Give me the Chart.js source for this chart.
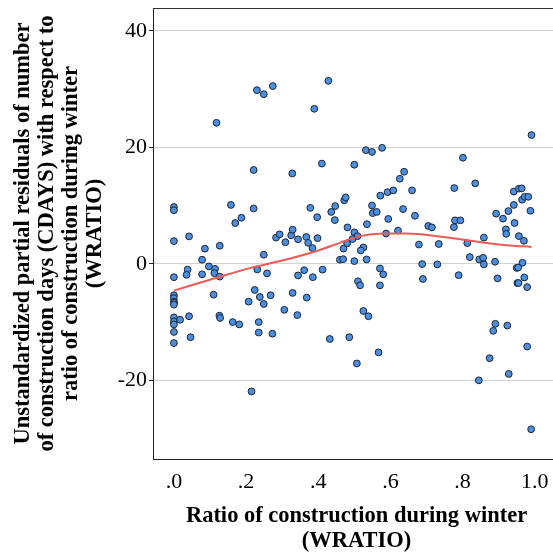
<!DOCTYPE html>
<html>
<head>
<meta charset="utf-8">
<script src="https://cdn.jsdelivr.net/npm/chart.js@4"></script>
<style>
  html, body { margin: 0; padding: 0; background: #fff; overflow: hidden; }
  canvas { display: block; }
</style>
</head>
<body>
<canvas id="chart" width="600" height="558"></canvas>
<script>
// Ratio of construction during winter (WRATIO) per project
const wratio = [
  0.118, 0.230, 0.249, 0.274, 0.389, 0.428,
  0.532, 0.549, 0.577, 0.801, 0.991,
  0, 0, 0, 0.042, 0.158, 0.221, 0.221, 0.170, 0.187, 0.328, 0.410, 0.086, 0.127, 0.078, 0.097,
  0.038, 0.035, 0, 0.078, 0.114, 0.112, 0.127, 0.110, 0, 0, 0, 0.249, 0.231, 0.258, 0.224,
  0.238, 0.207, 0.249, 0.268, 0.283, 0.293, 0.309, 0.325, 0.329, 0.344, 0.367, 0.372, 0.384,
  0.398, 0.378, 0.397, 0.436, 0.447, 0.446, 0.472, 0.481, 0.470, 0.480, 0.460, 0.469, 0.344,
  0.361, 0.385, 0.412, 0.329, 0.368, 0.306,
  0.500, 0.638, 0.626, 0.572, 0.592, 0.608, 0.660, 0.476, 0.549, 0.551, 0.562, 0.635, 0.668,
  0.594, 0.535, 0.500, 0.509, 0.495, 0.525, 0.518, 0.588, 0.621, 0.500, 0.534, 0.571, 0.580,
  0.510, 0.516, 0.571, 0.525, 0.679, 0.734, 0.688, 0.730, 0.690, 0.705, 0.715, 0.777, 0.835,
  0.779, 0.794, 0.776, 0.813, 0.859, 0.820, 0.846, 0.857, 0.859, 0.890, 0.789, 0.897, 0.893,
  0.912, 0.927, 0.942, 0.942, 0.956, 0.964, 0.965, 0.972, 0.982, 0.988, 0.944, 0.920, 0.921,
  0.956, 0.970, 0.966, 0.950, 0.954, 0.971, 0.952, 0.955, 0.979,
  0, 0, 0, 0, 0, 0.017, 0.042, 0, 0, 0.046, 0.126, 0.128, 0.163, 0.181, 0.235, 0.235, 0.273,
  0.342, 0.432, 0.486, 0.215,
  0.539, 0.567, 0.507, 0.891, 0.885, 0.924, 0.979, 0.875, 0.928, 0.845, 0.990
];

// Unstandardized partial residuals of CDAYS, same order as wratio
const residuals = [
  24.2, 29.8, 29.1, 30.5, 26.6, 31.4,
  19.5, 19.2, 19.9, 18.2, 22.1,
  9.75, 9.2, 3.9, 4.7, 10.1, 16.1, 9.5, 7.0, 7.9, 15.5, 17.2, 2.6, 3.1, 0.7, -0.45,
  -1.0, -1.9, -2.3, -1.8, -0.86, -1.6, -2.2, -5.3, -5.4, -5.9, -6.5, 1.55, -0.97, -1.65, -4.5,
  -5.7, -6.5, -6.9, -5.4, 4.5, 5.05, 3.7, 4.9, 5.85, 4.2, 4.6, 3.6, 2.7,
  4.4, 9.6, 8.0, 8.9, 9.9, 7.5, 10.9, 6.25, 2.6, 3.5, 0.7, 0.8, -2.0,
  -1.1, -2.3, -1.0, -5.0, -5.8, -7.9,
  17.0, 15.8, 14.6, 11.7, 12.3, 12.6, 12.6, 11.4, 10.0, 8.7, 8.9, 9.4, 8.25,
  7.7, 6.8, 5.4, 4.75, 4.25, 2.8, 2.3, 5.2, 5.7, 0.46, 0.75, -0.8, -1.8,
  -3.0, -3.7, -3.7, -8.1, 3.3, 3.4, -0.05, -0.1, -2.6, 6.5, 6.25, 13.0, 13.8,
  7.45, 7.45, 6.3, 3.55, 4.5, 1.15, 0.75, 1.03, -0.1, 0.35, -1.95, -2.5, 8.6,
  7.75, 9.05, 10.1, 12.4, 12.9, 12.95, 11.0, 11.5, 11.5, 9.1, 7.0, 5.9, 5.15,
  4.75, 3.95, 0.17, -0.7, -0.65, -2.35, -3.3, -3.3, -4.0,
  -6.7, -7.0, -9.2, -9.9, -10.4, -9.6, -9.0, -11.7, -13.6, -12.6, -8.9, -9.3, -10.0, -10.4, -10.0, -11.8, -12.0,
  -8.8, -12.9, -12.6, -21.9,
  -9.0, -15.2, -17.1, -10.3, -11.5, -10.6, -14.2, -16.2, -18.9, -20.0, -28.4
];

// Loess fit line through the residuals
const fitX = [0, 0.118, 0.213, 0.303, 0.395, 0.460, 0.515, 0.580, 0.645, 0.737, 0.829, 0.922, 0.991];
const fitY = [-4.6, -2.4, -0.7, 0.6, 2.2, 3.6, 4.75, 5.2, 5.2, 4.7, 3.9, 3.2, 2.9];

// Axis ticks
const xTicks = [0, 0.2, 0.4, 0.6, 0.8, 1.0];
const xTickLabels = ['.0', '.2', '.4', '.6', '.8', '1.0'];
const yTicks = [-20, 0, 20, 40];

const points = wratio.map((x, i) => ({ x: x, y: residuals[i] }));
const fitLine = fitX.map((x, i) => ({ x: x, y: fitY[i] }));

const serif = 'Liberation Serif, Times New Roman, serif';

// Thin frame line along the top of the plot area
const topFrame = {
  id: 'topFrame',
  afterDraw(chart) {
    const { ctx, chartArea } = chart;
    ctx.save();
    ctx.strokeStyle = '#333';
    ctx.lineWidth = 1;
    ctx.beginPath();
    ctx.moveTo(chartArea.left, chartArea.top + 0.5);
    ctx.lineTo(chartArea.right, chartArea.top + 0.5);
    ctx.stroke();
    ctx.restore();
  }
};

new Chart(document.getElementById('chart'), {
  type: 'scatter',
  data: {
    datasets: [
      {
        type: 'line',
        data: fitLine,
        borderColor: '#ee5a55',
        borderWidth: 2,
        pointRadius: 0,
        tension: 0.35,
        cubicInterpolationMode: 'monotone',
        fill: false,
        order: 0
      },
      {
        data: points,
        backgroundColor: '#4a8fe0',
        borderColor: '#1b2433',
        borderWidth: 1,
        pointRadius: 3.4,
        order: 1
      }
    ]
  },
  options: {
    responsive: false,
    animation: false,
    devicePixelRatio: 1,
    layout: { padding: { top: 8, right: 40, left: 0, bottom: 0 } },
    plugins: { legend: { display: false }, tooltip: { enabled: false } },
    scales: {
      x: {
        type: 'linear',
        min: -0.058,
        max: 1.07,
        afterBuildTicks: (scale) => { scale.ticks = xTicks.map(v => ({ value: v })); },
        afterFit: (scale) => { scale.height = 99; scale.paddingLeft = 0; scale.paddingRight = 0; },
        grid: { display: false, drawTicks: false },
        border: { display: true, color: '#222', width: 1 },
        ticks: {
          padding: 10,
          color: '#000',
          font: { family: serif, size: 22 },
          callback: (v) => xTickLabels[xTicks.indexOf(v)]
        },
        title: {
          display: true,
          text: ['Ratio of construction during winter', '(WRATIO)'],
          color: '#000',
          font: { family: serif, size: 22.5, weight: 'bold', lineHeight: 1.08 },
          padding: { top: 0, bottom: 5 }
        }
      },
      y: {
        type: 'linear',
        min: -33.5,
        max: 43.9,
        afterBuildTicks: (scale) => { scale.ticks = yTicks.map(v => ({ value: v })); },
        afterFit: (scale) => { scale.width = 153; scale.paddingTop = 0; scale.paddingBottom = 0; },
        grid: {
          color: '#d2d2d2',
          lineWidth: 1,
          drawTicks: true,
          tickLength: 4,
          tickColor: '#222'
        },
        border: { display: true, color: '#222', width: 1 },
        ticks: {
          padding: 2,
          color: '#000',
          font: { family: serif, size: 22 }
        },
        title: {
          display: true,
          text: [
            'Unstandardized partial residuals of number',
            'of construction days (CDAYS) with respect to',
            'ratio of construction during winter',
            '(WRATIO)'
          ],
          color: '#000',
          font: { family: serif, size: 22.5, weight: 'bold', lineHeight: 1.07 },
          padding: { top: 11, bottom: 0 }
        }
      }
    }
  },
  plugins: [topFrame]
});
</script>
</body>
</html>
